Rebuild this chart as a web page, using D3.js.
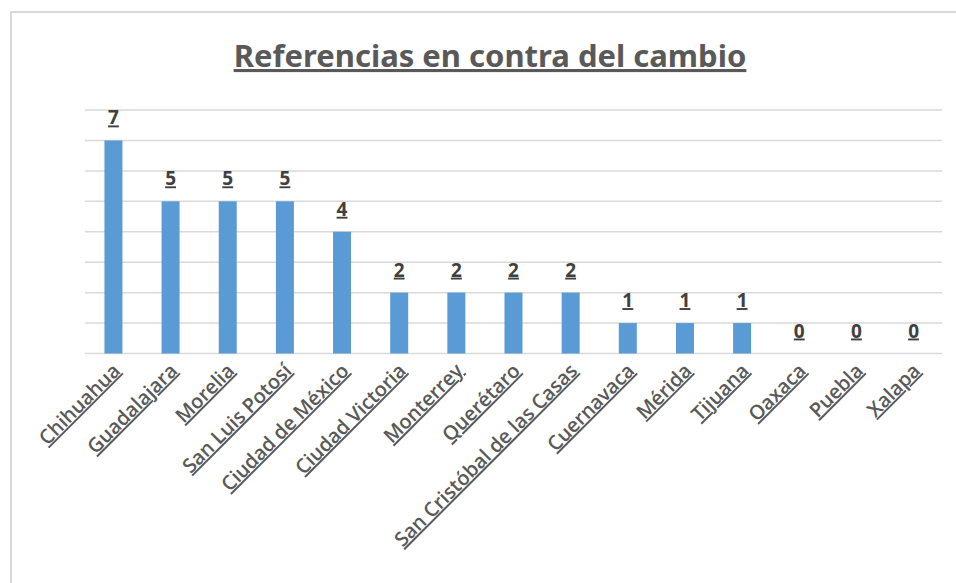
<!DOCTYPE html>
<meta charset="utf-8">
<style>
body { margin: 0; background: #fff; }
.grid line { stroke: #d9d9d9; stroke-width: 1.5px; }
.bar { fill: #5b9bd5; }
.title { font: bold 31px "Liberation Sans Narrow", "Noto Sans", sans-serif; fill: #595959; text-decoration: underline; }
.val { font: bold 19px "Open Sans", "Noto Sans", sans-serif; fill: #404040; text-decoration: underline; }
.cat { font: 600 20px "Open Sans", "Noto Sans", sans-serif; fill: #595959; text-decoration: underline; }
</style>
<svg width="956" height="583"></svg>
<script src="https://d3js.org/d3.v7.min.js"></script>
<script>

var ciudades = ["Chihuahua", "Guadalajara", "Morelia", "San Luis Potosí", "Ciudad de México",
  "Ciudad Victoria", "Monterrey", "Querétaro", "San Cristóbal de las Casas", "Cuernavaca",
  "Mérida", "Tijuana", "Oaxaca", "Puebla", "Xalapa"];
var referencias = [7, 5, 5, 5, 4, 2, 2, 2, 2, 1, 1, 1, 0, 0, 0];
var ticks = [0, 1, 2, 3, 4, 5, 6, 7, 8];
var titulo = "Referencias en contra del cambio";

var svg = d3.select("svg");

// marco del grafico
svg.append("rect")
    .attr("x", 11).attr("y", 12)
    .attr("width", 960).attr("height", 600)
    .attr("fill", "none")
    .attr("stroke", "#d9d9d9")
    .attr("stroke-width", 2);

var x = d3.scaleBand()
    .domain(ciudades)
    .range([85, 942])
    .paddingInner(0.685)
    .paddingOuter(0.34);

var y = d3.scaleLinear()
    .domain([0, 8])
    .range([353.5, 110]);

svg.append("g")
    .attr("class", "grid")
  .selectAll("line")
  .data(ticks)
  .enter().append("line")
    .attr("x1", 85).attr("x2", 942)
    .attr("y1", function(d) { return y(d); })
    .attr("y2", function(d) { return y(d); });

svg.selectAll(".bar")
  .data(referencias)
  .enter().append("rect")
    .attr("class", "bar")
    .attr("x", function(d, i) { return x(ciudades[i]); })
    .attr("width", x.bandwidth())
    .attr("y", function(d) { return y(d); })
    .attr("height", function(d) { return y(0) - y(d); });

svg.selectAll(".val")
  .data(referencias)
  .enter().append("text")
    .attr("class", "val")
    .attr("text-anchor", "middle")
    .attr("x", function(d, i) { return x(ciudades[i]) + x.bandwidth() / 2; })
    .attr("y", function(d) { return y(d) - 16; })
    .text(function(d) { return d; });

svg.selectAll(".cat")
  .data(ciudades)
  .enter().append("text")
    .attr("class", "cat")
    .attr("text-anchor", "end")
    .attr("transform", function(d) {
      return "translate(" + (x(d) + x.bandwidth() / 2 + 8) + ",372) rotate(-45)";
    })
    .text(function(d) { return d; });

svg.append("text")
    .attr("class", "title")
    .attr("text-anchor", "middle")
    .attr("x", 490)
    .attr("y", 67)
    .text(titulo);

</script>
